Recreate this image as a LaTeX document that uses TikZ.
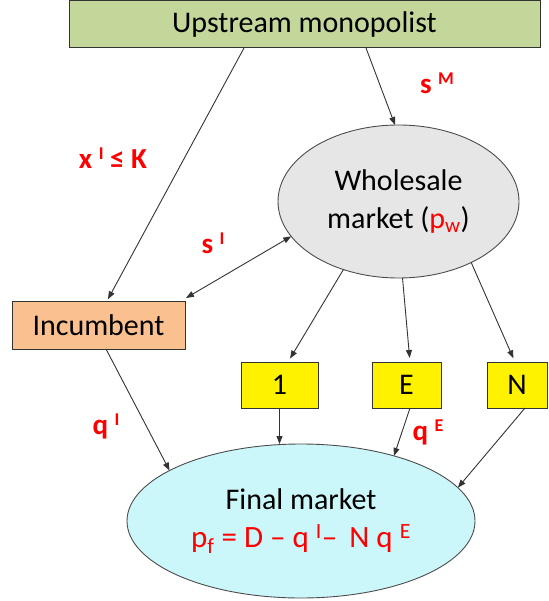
\documentclass[tikz,border=0pt]{standalone}
\usepackage{fontspec}
\setmainfont{Carlito}
\usetikzlibrary{arrows.meta,shapes.geometric}
\definecolor{upgreen}{HTML}{C4D79B}
\definecolor{incorange}{HTML}{FAC090}
\definecolor{wgrey}{HTML}{E6E6E6}
\definecolor{fcyan}{HTML}{CCF7FA}
\definecolor{lred}{HTML}{FF0000}
\newcommand\mysup[1]{\raisebox{9pt}{\fontsize{18}{18}\selectfont #1}}
\tikzset{
  boxnode/.style={draw=black!80,line width=1pt,rectangle,inner sep=0pt,outer sep=0pt,font=\fontsize{30}{36}\selectfont,text=black},
  ellnode/.style={draw=black!70,line width=0.9pt,ellipse,inner sep=0pt,outer sep=0pt,align=center,font=\fontsize{30}{37}\selectfont,text=black},
  lbl/.style={inner sep=0pt,text=lred,font=\fontsize{29}{30}\selectfont\bfseries},
  conn/.style={draw=black!80,line width=0.9pt,-{Triangle[length=8pt,width=6pt]}},
  conn2/.style={draw=black!80,line width=0.9pt,{Triangle[length=8pt,width=6pt]}-{Triangle[length=8pt,width=6pt]}}
}
\begin{document}
\begin{tikzpicture}[x=1pt,y=-1pt]
\useasboundingbox (0,0) rectangle (548,601);
\node[boxnode,fill=upgreen,minimum width=471pt,minimum height=47pt] (U) at (304.5,24.5) {Upstream monopolist};
\node[boxnode,fill=incorange,minimum width=173pt,minimum height=48pt] (I) at (98.5,325) {Incumbent};
\node[ellnode,fill=wgrey,minimum width=241pt,minimum height=153pt] (W) at (398.5,201.5) {Wholesale\\[1pt]market ({\color{lred}p\textsubscript{w}})};
\node[ellnode,fill=fcyan,minimum width=348pt,minimum height=154pt] (F) at (301,521) {Final market\\[1pt]{\fontsize{31}{37}\selectfont\color{lred}p\textsubscript{f} = D – q \textsuperscript{I}– \,N q \textsuperscript{E}}};
\node[boxnode,fill=yellow,minimum width=77pt,minimum height=46pt] (b1) at (279.5,385) {1};
\node[boxnode,fill=yellow,minimum width=69pt,minimum height=46pt] (bE) at (406.5,385) {E};
\node[boxnode,fill=yellow,minimum width=60pt,minimum height=46pt] (bN) at (517,385) {N};
\node[lbl] (lx) at (113,158) {x \mysup{I} ≤ K};
\node[lbl] (lsM) at (437,83) {s \mysup{M}};
\node[lbl] (lsI) at (213,243) {s \mysup{I}};
\node[lbl] (lqI) at (106,426) {q \mysup{I}};
\node[lbl] (lqE) at (428,432) {q \mysup{E}};
\draw[conn,shorten >=2pt] ([xshift=175pt]U.south west) -- ([xshift=95pt]I.north west);
\draw[conn] ([xshift=297pt]U.south west) -- ([xshift=-3.5pt]W.north);
\draw[conn2] (W.198.6) -- ([shift={(1pt,3pt)}]I.north east);
\draw[conn,shorten >=4pt] (W.231.8) -- ([xshift=47pt]b1.north west);
\draw[conn,shorten >=4pt] (W.273.3) -- ([xshift=38pt]bE.north west);
\draw[conn,shorten >=4pt] (W.320.8) -- ([xshift=28pt]bN.north west);
\draw[conn] (b1.south) -- (b1.south |- F.north);
\draw[conn] ([xshift=38pt]bE.south west) -- (F.35.1);
\draw[conn] ([xshift=38pt]bN.south west) -- (F.12.7);
\draw[conn] ([xshift=94pt]I.south west) -- (F.159.3);
\end{tikzpicture}
\end{document}
